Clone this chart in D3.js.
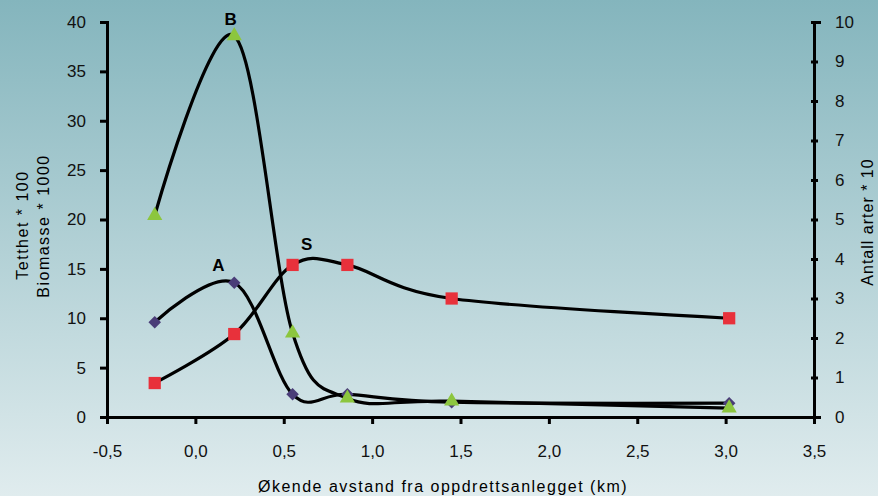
<!DOCTYPE html>
<html>
<head>
<meta charset="utf-8">
<script src="https://cdn.jsdelivr.net/npm/d3@7"></script>
<style>
  html, body { margin: 0; padding: 0; }
  body { width: 878px; height: 496px; overflow: hidden; }
  text { font-family: "Liberation Sans", Arial, sans-serif; }
</style>
</head>
<body>
<div id="chart"></div>
<script>
// distance from the farm (km)
const distA = [-0.23, 0.22, 0.55, 0.86, 1.45, 3.02];
const valA = [9.6, 13.6, 2.3, 2.3, 1.5, 1.4];          // left axis
const distB = [-0.23, 0.22, 0.55, 0.86, 1.45, 3.02];
const valB = [20.4, 38.6, 8.5, 1.9, 1.6, 0.9];         // left axis
const distS = [-0.23, 0.22, 0.55, 0.86, 1.45, 3.02];
const valS = [0.86, 2.1, 3.85, 3.85, 3.0, 2.5];        // right axis

const xTicks = [-0.5, 0, 0.5, 1, 1.5, 2, 2.5, 3, 3.5];
const yLeftTicks = [0, 5, 10, 15, 20, 25, 30, 35, 40];
const yRightTicks = [0, 1, 2, 3, 4, 5, 6, 7, 8, 9, 10];

const width = 878, height = 496;
const plotL = 107, plotR = 814, plotT = 22, plotB = 417;

const svg = d3.select('#chart').append('svg')
    .attr('width', width)
    .attr('height', height);

// background gradient
const grad = svg.append('defs').append('linearGradient')
    .attr('id', 'bg').attr('x1', 0).attr('y1', 0).attr('x2', 0).attr('y2', 1);
grad.append('stop').attr('offset', '0%').attr('stop-color', '#84b5bd');
grad.append('stop').attr('offset', '100%').attr('stop-color', '#e0ecee');
svg.append('rect').attr('width', width).attr('height', height).attr('fill', 'url(#bg)');

const x = d3.scaleLinear().domain([-0.5, 3.5]).range([plotL, plotR]);
const yL = d3.scaleLinear().domain([0, 40]).range([plotB, plotT]);
const yR = d3.scaleLinear().domain([0, 10]).range([plotB, plotT]);

const fmt = d => d3.format('.1f')(d).replace('.', ',').replace('\u2212', '-');

// axes
const gx = svg.append('g').attr('transform', `translate(0,${plotB})`)
    .call(d3.axisBottom(x).tickValues(xTicks).tickFormat(fmt).tickSize(7).tickPadding(21));
const gl = svg.append('g').attr('transform', `translate(${plotL},0)`)
    .call(d3.axisLeft(yL).tickValues(yLeftTicks).tickSize(7).tickPadding(14));
const gr = svg.append('g').attr('transform', `translate(${plotR},0)`)
    .call(d3.axisRight(yR).tickValues(yRightTicks).tickSize(7).tickPadding(14));

[gx, gl, gr].forEach(g => {
    g.select('.domain').attr('stroke', '#000').attr('stroke-width', 3);
    g.selectAll('.tick line').attr('stroke', '#000').attr('stroke-width', 3);
    g.selectAll('.tick text').attr('fill', '#111').style('font-size', '17px')
        .style('font-family', '"Liberation Sans", Arial, sans-serif');
});
gl.selectAll('.tick line').attr('x1', 0).attr('x2', -7);
gr.selectAll('.tick line').attr('x1', -3).attr('x2', 4);

// smoothed lines
function series(dist, vals, yScale) {
    return dist.map((d, i) => [d, vals[i], yScale]);
}
const line = d3.line()
    .x(d => x(d[0]))
    .y(d => d[2](d[1]))
    .curve(d3.curveCardinal.tension(0));

const sA = series(distA, valA, yL);
const sB = series(distB, valB, yL);
const sS = series(distS, valS, yR);

[sA, sB, sS].forEach(s => {
    svg.append('path').datum(s)
        .attr('d', line)
        .attr('fill', 'none')
        .attr('stroke', '#000')
        .attr('stroke-width', 3.2);
});

// markers
svg.append('g').selectAll('path').data(sA).enter().append('path')
    .attr('transform', d => `translate(${x(d[0])},${d[2](d[1])})`)
    .attr('d', d3.symbol(d3.symbolDiamond2, 100))
    .attr('fill', '#4a3d78');
svg.append('g').selectAll('path').data(sS).enter().append('path')
    .attr('transform', d => `translate(${x(d[0])},${d[2](d[1])})`)
    .attr('d', d3.symbol(d3.symbolSquare, 150))
    .attr('fill', '#e8313b');
svg.append('g').selectAll('path').data(sB).enter().append('path')
    .attr('transform', d => `translate(${x(d[0])},${d[2](d[1])})`)
    .attr('d', d3.symbol(d3.symbolTriangle, 100))
    .attr('fill', '#8cc63e');

// series labels
const labels = [
    { t: 'A', x: 0.13, y: yL(14.8) },
    { t: 'B', x: 0.2, y: yL(39.7) },
    { t: 'S', x: 0.63, y: yL(16.9) }
];
svg.append('g').selectAll('text').data(labels).enter().append('text')
    .attr('x', d => x(d.x))
    .attr('y', d => d.y)
    .attr('text-anchor', 'middle')
    .style('font-size', '17px')
    .style('font-weight', 'bold')
    .text(d => d.t);

// axis titles
svg.append('text')
    .attr('transform', 'translate(28,225) rotate(-90)')
    .attr('text-anchor', 'middle')
    .style('font-size', '16px').style('letter-spacing', '1.5px')
    .text('Tetthet * 100');
svg.append('text')
    .attr('transform', 'translate(49,226) rotate(-90)')
    .attr('text-anchor', 'middle')
    .style('font-size', '16px').style('letter-spacing', '1.5px')
    .text('Biomasse * 1000');
svg.append('text')
    .attr('transform', 'translate(873,222) rotate(-90)')
    .attr('text-anchor', 'middle')
    .style('font-size', '16px').style('letter-spacing', '1px')
    .text('Antall arter * 10');
svg.append('text')
    .attr('x', 443).attr('y', 492)
    .attr('text-anchor', 'middle')
    .style('font-size', '16px').style('letter-spacing', '1.5px')
    .text('Økende avstand fra oppdrettsanlegget (km)');
</script>
</body>
</html>
